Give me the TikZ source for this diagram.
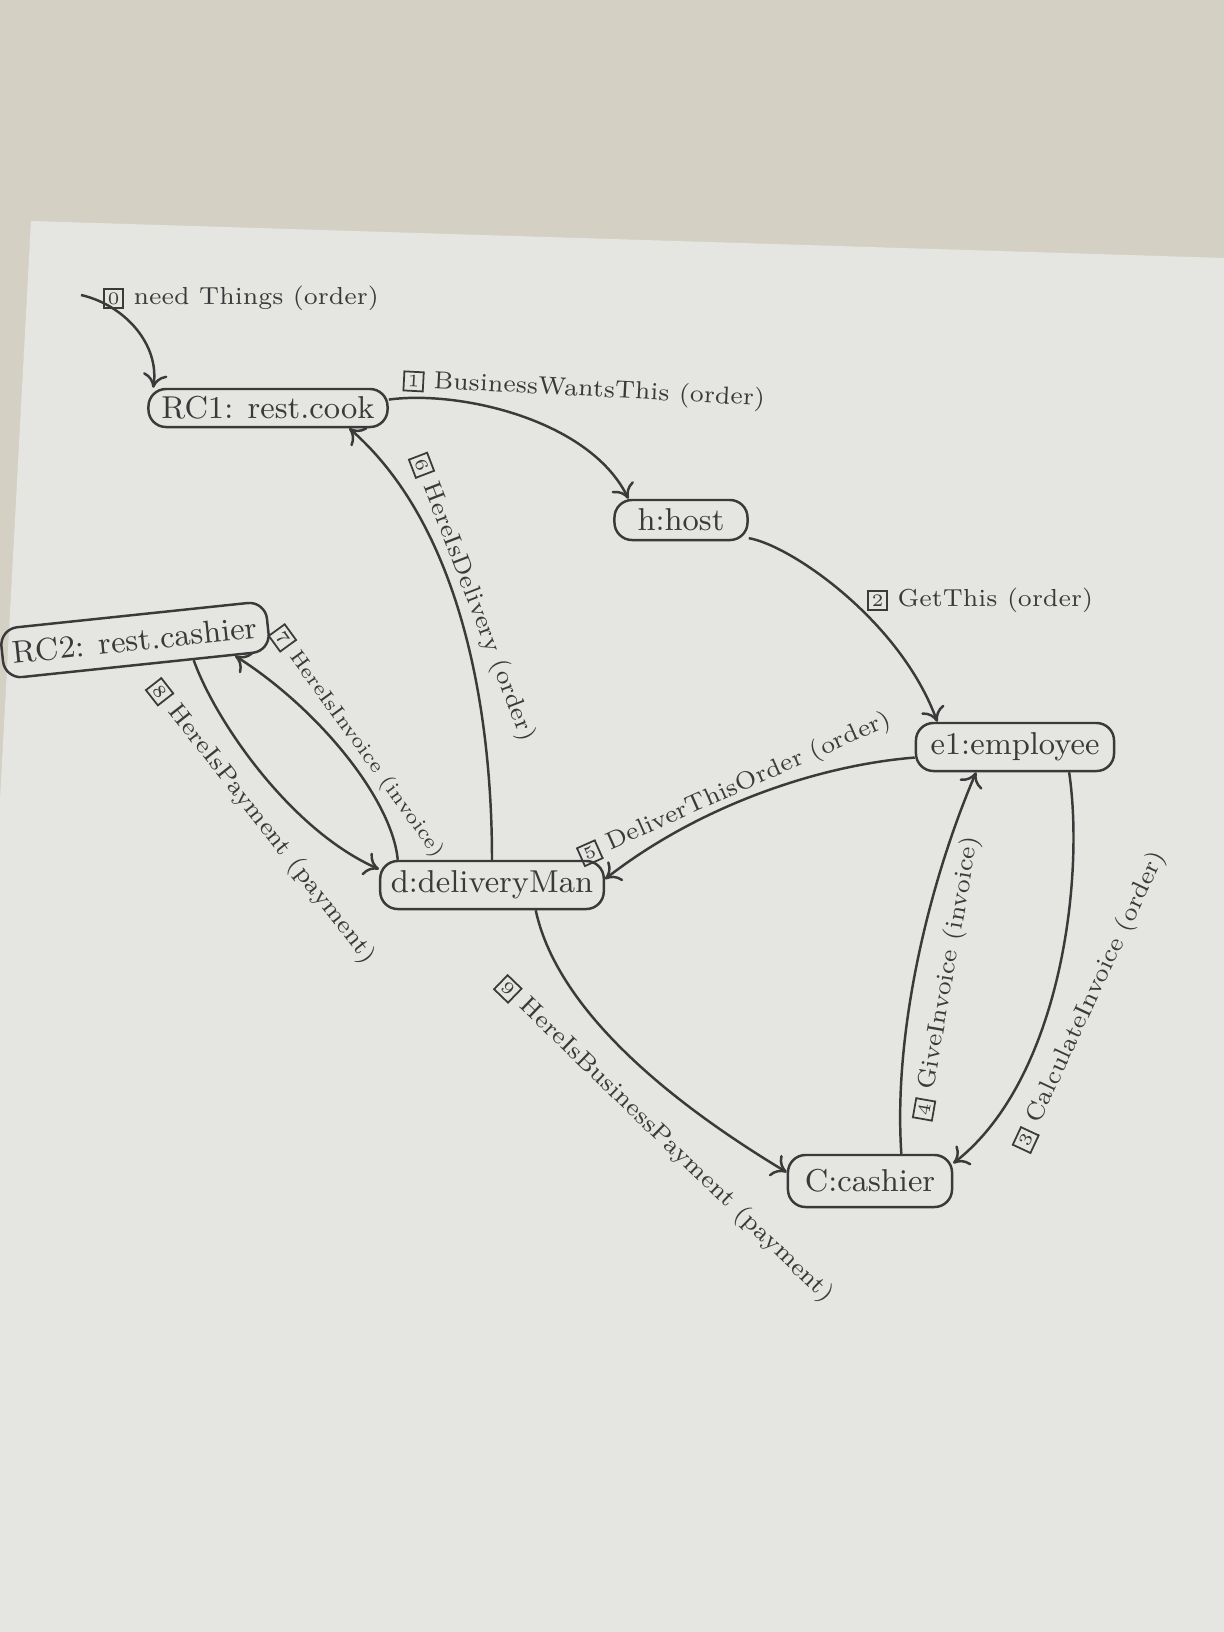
\documentclass[tikz,border=0pt]{standalone}
\usepackage{tikz}
\usetikzlibrary{arrows.meta}

\definecolor{wall}{RGB}{212,209,196}
\definecolor{paper}{RGB}{229,229,226}
\definecolor{pencil}{RGB}{58,58,58}

\newcommand{\msgno}[1]{{\setlength{\fboxsep}{0.8pt}\setlength{\fboxrule}{0.5pt}\fbox{\tiny #1}}}

\tikzset{
  obj/.style  = {rectangle, rounded corners=5pt, draw=pencil, line width=0.7pt, inner xsep=3pt, inner ysep=1pt, font=\small, text=pencil},
  msg/.style  = {font=\scriptsize, text=pencil},
  link/.style = {draw=pencil, line width=0.7pt, -{To[length=4pt, width=7pt]}}
}

\begin{document}
\begin{tikzpicture}[x=0.01cm, y=-0.01cm]
        \useasboundingbox (0,0) rectangle (1224,1632);

        %Sheet of paper
        \fill [wall]  (0,0) rectangle (1224,1632);
        \fill [paper] (31,221) -- (1224,258) -- (1224,1632) -- (0,1632) -- (0,800) -- cycle;

        %Objects
        \node [obj, minimum width=2.39cm, minimum height=0.38cm]           (rc1)  at (268,408)  {RC1: rest.cook};
        \node [obj, minimum width=1.33cm, minimum height=0.40cm]           (host) at (681,520)  {h:host};
        \node [obj, minimum width=1.98cm, minimum height=0.48cm]           (emp)  at (1015,747) {e1:employee};
        \node [obj, minimum width=2.45cm, minimum height=0.50cm, rotate=6] (rc2)  at (135,640)  {RC2: rest.cashier};
        \node [obj, minimum width=2.13cm, minimum height=0.48cm]           (dman) at (492,885)  {d:deliveryMan};
        \node [obj, minimum width=1.64cm, minimum height=0.52cm]           (cash) at (870,1181) {C:cashier};

        %Messages
        \coordinate (c0) at (81,295);
        \draw [link] (c0)       .. controls (125,305)  and (160,345)  .. (rc1.170);
        \draw [link] (rc1.4)    .. controls (460,390)  and (590,420)  .. (host.158);
        \draw [link] (host.-15) .. controls (790,545)  and (900,620)  .. (emp.162);
        \draw [link] (emp.-25)  .. controls (1085,880) and (1060,1080) .. (cash.12);
        \draw [link] (cash.41)  .. controls (893,1030) and (930,880)  .. (emp.213);
        \draw [link] (emp.186)  .. controls (820,765)  and (700,805)  .. (dman.3);
        \draw [link] (dman.90)  .. controls (492,720)  and (465,530)  .. (rc1.-14);
        \draw [link] (dman.165) .. controls (392,800)  and (320,710)  .. (rc2.-15);
        \draw [link] (rc2.-25)  .. controls (215,720)  and (290,830)  .. (dman.172);
        \draw [link] (dman.-30) .. controls (555,1000) and (650,1090) .. (cash.174);

        %Message labels
        \node [msg]             (l0) at (241,298)  {\msgno{0} need Things (order)};
        \node [msg, rotate=-3]  (l1) at (584,390)  {\msgno{1} BusinessWantsThis (order)};
        \node [msg]             (l2) at (980,600)  {\msgno{2} GetThis (order)};
        \node [msg, rotate=65]  (l3) at (1090,1001) {\msgno{3} CalculateInvoice (order)};
        \node [msg, rotate=80]  (l4) at (947,978)  {\msgno{4} GiveInvoice (invoice)};
        \node [msg, rotate=24]  (l5) at (735,788)  {\msgno{5} DeliverThisOrder (order)};
        \node [msg, rotate=-69] (l6) at (473,598)  {\msgno{6} HereIsDelivery (order)};
        \node [msg, rotate=-54, font=\fontsize{5.8}{7}\selectfont] (l7) at (358,742) {\msgno{7} HereIsInvoice (invoice)};
        \node [msg, rotate=-52] (l8) at (262,822)  {\msgno{8} HereIsPayment (payment)};
        \node [msg, rotate=-44] (l9) at (665,1140) {\msgno{9} HereIsBusinessPayment (payment)};

\end{tikzpicture}
\end{document}
